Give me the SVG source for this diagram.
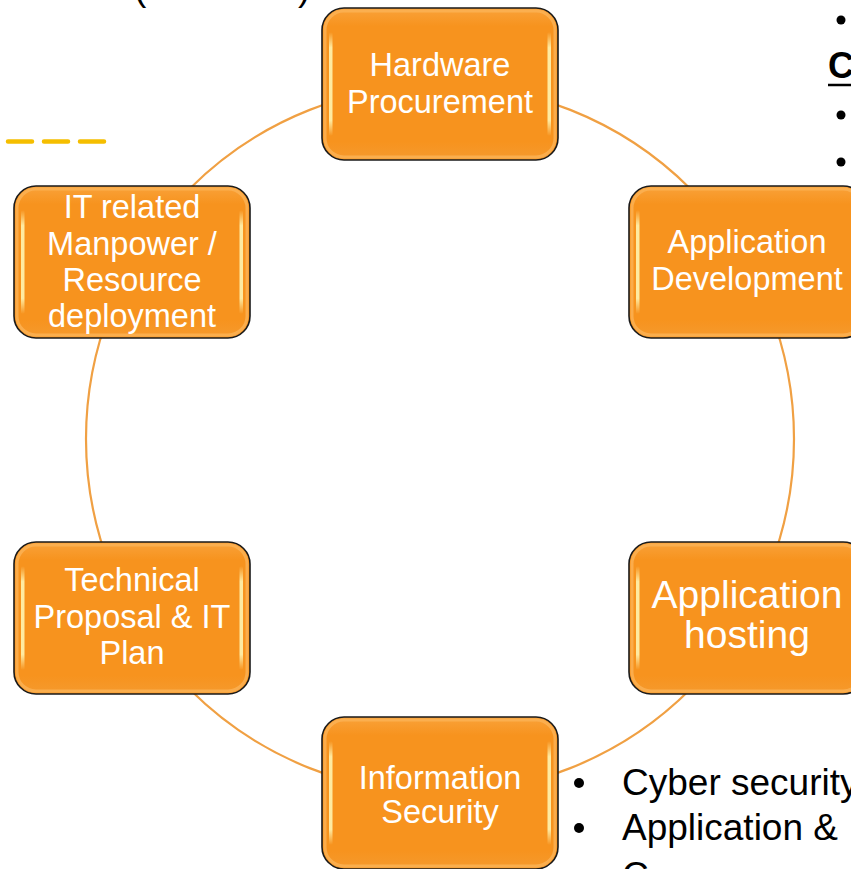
<svg xmlns="http://www.w3.org/2000/svg" width="851" height="869" viewBox="0 0 851 869">
  <defs>
    <linearGradient id="gFill" x1="0" y1="0" x2="0" y2="1">
      <stop offset="0" stop-color="#F9A23A"/>
      <stop offset="0.12" stop-color="#F7931E"/>
      <stop offset="0.88" stop-color="#F7931E"/>
      <stop offset="1" stop-color="#F59A2E"/>
    </linearGradient>
    <linearGradient id="gHl" x1="0" y1="0" x2="0" y2="1">
      <stop offset="0" stop-color="#FFF4B0" stop-opacity="0"/>
      <stop offset="0.15" stop-color="#FFF4B0" stop-opacity="0.9"/>
      <stop offset="0.85" stop-color="#FFF4B0" stop-opacity="0.9"/>
      <stop offset="1" stop-color="#FFF4B0" stop-opacity="0"/>
    </linearGradient>
    <style>
      .box { fill: url(#gFill); stroke: #1a1a1a; stroke-width: 1.6; }
      .rim { fill: none; stroke: #FBB356; stroke-width: 3; stroke-opacity: 0.8; }
      .hl { fill: url(#gHl); }
      .lbl { font-family: "Liberation Sans", Arial, sans-serif; font-size: 32.5px; fill: #ffffff; text-anchor: middle; }
      .big { font-size: 39px; }
      .conn { fill: none; stroke: #F0A043; stroke-width: 2.2; }
      .side { font-family: "Liberation Sans", Arial, sans-serif; font-size: 37px; fill: #000000; }
    </style>
  </defs>

  <rect x="0" y="0" width="851" height="869" fill="#ffffff"/>

  <!-- background fragments -->
  <g id="fragments">
    <text class="side" x="134" y="0">(</text>
    <text class="side" x="298" y="0">)</text>
    <line x1="8" y1="141.5" x2="105" y2="141.5" stroke="#F5BE00" stroke-width="4.5" stroke-dasharray="24 12" stroke-linecap="round"/>
    <circle cx="841" cy="20" r="4.5" fill="#000"/>
    <text x="828" y="78" font-family="Liberation Sans, Arial, sans-serif" font-size="36" font-weight="bold" fill="#000">C</text>
    <line x1="828" y1="85" x2="851" y2="85" stroke="#000" stroke-width="2.5"/>
    <circle cx="841" cy="115" r="4.5" fill="#000"/>
    <circle cx="841" cy="162" r="4.5" fill="#000"/>
    <circle cx="579" cy="783" r="5" fill="#000"/>
    <text class="side" x="622" y="795">Cyber security</text>
    <circle cx="579" cy="828" r="5" fill="#000"/>
    <text class="side" x="622" y="840">Application &amp;</text>
    <text class="side" x="622" y="888">C</text>
  </g>

  <!-- connectors -->
  <g id="connectors">
    <circle class="conn" cx="440" cy="439" r="354"/>
  </g>

  <g id="n-hardware" transform="translate(322,8)">
    <rect class="box" x="0" y="0" width="236" height="152" rx="22"/>
    <rect class="rim" x="3" y="3" width="230" height="146" rx="19"/>
    <rect class="hl" x="7" y="24" width="3.5" height="104" rx="1.7"/>
    <rect class="hl" x="225.5" y="24" width="3.5" height="104" rx="1.7"/>
    <text class="lbl" x="118" y="68">Hardware</text>
    <text class="lbl" x="118" y="105">Procurement</text>
  </g>

  <g id="n-manpower" transform="translate(14,186)">
    <rect class="box" x="0" y="0" width="236" height="152" rx="22"/>
    <rect class="rim" x="3" y="3" width="230" height="146" rx="19"/>
    <rect class="hl" x="7" y="24" width="3.5" height="104" rx="1.7"/>
    <rect class="hl" x="225.5" y="24" width="3.5" height="104" rx="1.7"/>
    <text class="lbl" x="118" y="32">IT related</text>
    <text class="lbl" x="118" y="69">Manpower /</text>
    <text class="lbl" x="118" y="105">Resource</text>
    <text class="lbl" x="118" y="141">deployment</text>
  </g>

  <g id="n-appdev" transform="translate(629,186)">
    <rect class="box" x="0" y="0" width="236" height="152" rx="22"/>
    <rect class="rim" x="3" y="3" width="230" height="146" rx="19"/>
    <rect class="hl" x="7" y="24" width="3.5" height="104" rx="1.7"/>
    <rect class="hl" x="225.5" y="24" width="3.5" height="104" rx="1.7"/>
    <text class="lbl" x="118" y="67">Application</text>
    <text class="lbl" x="118" y="104">Development</text>
  </g>

  <g id="n-techplan" transform="translate(14,542)">
    <rect class="box" x="0" y="0" width="236" height="152" rx="22"/>
    <rect class="rim" x="3" y="3" width="230" height="146" rx="19"/>
    <rect class="hl" x="7" y="24" width="3.5" height="104" rx="1.7"/>
    <rect class="hl" x="225.5" y="24" width="3.5" height="104" rx="1.7"/>
    <text class="lbl" x="118" y="49">Technical</text>
    <text class="lbl" x="118" y="86">Proposal &amp; IT</text>
    <text class="lbl" x="118" y="122">Plan</text>
  </g>

  <g id="n-hosting" transform="translate(629,542)">
    <rect class="box" x="0" y="0" width="236" height="152" rx="22"/>
    <rect class="rim" x="3" y="3" width="230" height="146" rx="19"/>
    <rect class="hl" x="7" y="24" width="3.5" height="104" rx="1.7"/>
    <rect class="hl" x="225.5" y="24" width="3.5" height="104" rx="1.7"/>
    <text class="lbl big" x="118" y="66">Application</text>
    <text class="lbl big" x="118" y="106">hosting</text>
  </g>

  <g id="n-infosec" transform="translate(322,717)">
    <rect class="box" x="0" y="0" width="236" height="152" rx="22"/>
    <rect class="rim" x="3" y="3" width="230" height="146" rx="19"/>
    <rect class="hl" x="7" y="24" width="3.5" height="104" rx="1.7"/>
    <rect class="hl" x="225.5" y="24" width="3.5" height="104" rx="1.7"/>
    <text class="lbl" x="118" y="72">Information</text>
    <text class="lbl" x="118" y="106">Security</text>
  </g>
</svg>
